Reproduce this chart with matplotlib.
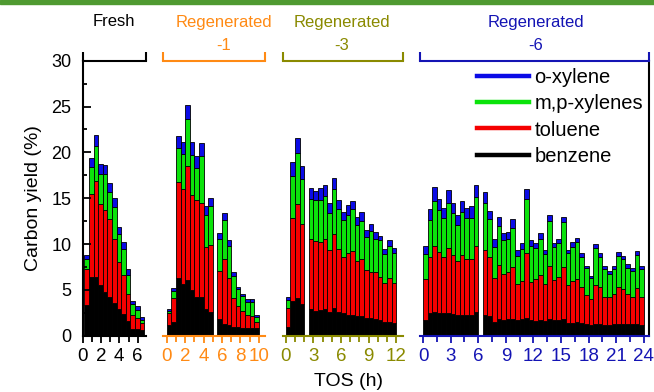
import numpy as np
import matplotlib
matplotlib.use("Agg")
import matplotlib.pyplot as plt
from matplotlib.lines import Line2D
from matplotlib.patches import Rectangle
from matplotlib.ticker import MultipleLocator

plt.rcParams['font.family'] = ['Liberation Sans', 'DejaVu Sans']

# ---------------- data ----------------
# Fresh
tos_fresh = [0.45, 0.95, 1.45, 1.95, 2.45, 2.95, 3.45, 3.95, 4.45, 4.95, 5.45, 5.95, 6.45]
benz_fresh = [3.3, 6.4, 6.4, 5.5, 4.8, 4.2, 3.6, 2.9, 2.4, 1.6, 0.7, 0.7, 0.6]
tol_fresh = [4.0, 9.1, 10.5, 8.9, 8.9, 8.5, 6.9, 5.1, 4.2, 2.9, 1.6, 1.2, 0.75]
mp_fresh = [1.1, 2.9, 3.8, 3.2, 3.9, 3.0, 3.5, 3.1, 2.85, 2.15, 1.15, 0.9, 0.35]
o_fresh = [0.45, 1.0, 1.2, 1.1, 1.05, 1.0, 1.0, 0.8, 0.75, 0.65, 0.35, 0.4, 0.3]

# Regenerated-1
tos_r1 = [0.25, 0.75, 1.25, 1.75, 2.25, 2.75, 3.25, 3.75, 4.25, 4.75,
          5.75, 6.25, 6.75, 7.25, 7.75, 8.25, 8.75, 9.25, 9.75]
benz_r1 = [1.16, 1.45, 6.25, 5.6, 6.1, 4.95, 4.2, 4.2, 2.9, 2.6,
           1.8, 1.24, 1.16, 1.0, 1.0, 0.87, 0.87, 0.87, 0.87]
tol_r1 = [1.28, 2.62, 10.55, 10.4, 12.4, 10.45, 10.6, 10.3, 6.8, 7.3,
          5.25, 7.16, 5.14, 3.15, 2.2, 1.83, 1.43, 1.33, 0.63]
mp_r1 = [0.26, 0.8, 3.7, 3.8, 5.1, 4.3, 3.45, 5.1, 3.5, 4.2,
         3.45, 4.2, 3.5, 2.35, 1.85, 1.6, 1.4, 1.5, 0.57]
o_r1 = [0.2, 0.37, 1.3, 1.3, 1.6, 1.4, 1.35, 1.4, 0.9, 0.9,
        0.7, 0.75, 0.6, 0.4, 0.3, 0.3, 0.3, 0.3, 0.18]

# Regenerated-3
tos_r3 = [0.25, 0.75, 1.25, 1.75,
          2.75, 3.25, 3.75, 4.25, 4.75, 5.25, 5.75, 6.25, 6.75, 7.25,
          7.75, 8.25, 8.75, 9.25, 9.75, 10.25, 10.75, 11.25, 11.75]
benz_r3 = [0.98, 3.8, 4.15, 3.45, 2.9, 2.7, 2.8, 2.9, 2.6, 3.05, 2.6, 2.44,
           2.3, 2.3, 2.2, 2.2, 1.9, 1.9, 1.8, 1.7, 1.5, 1.5, 1.4]
tol_r3 = [2.07, 9.0, 10.25, 8.75, 7.6, 7.6, 7.45, 7.6, 6.75, 8.0, 6.85, 6.11,
          6.7, 6.9, 5.9, 6.2, 5.25, 5.0, 5.1, 4.75, 4.3, 4.8, 4.4]
mp_r3 = [0.85, 4.65, 5.5, 4.9, 4.4, 4.5, 4.55, 4.7, 4.05, 4.95, 4.35, 4.05,
         4.2, 4.6, 4.0, 4.15, 3.65, 4.5, 3.6, 3.95, 3.1, 3.5, 3.25]
o_r3 = [0.28, 1.55, 1.7, 1.4, 1.2, 1.0, 1.3, 1.2, 1.1, 1.2, 1.0, 0.85,
        1.05, 0.9, 0.9, 0.9, 0.7, 0.75, 0.8, 0.5, 0.55, 0.6, 0.55]

# Regenerated-6
tos_r6 = [0.25, 0.75, 1.25, 1.75, 2.25, 2.75, 3.25, 3.75, 4.25, 4.75, 5.25, 5.75,
          6.75, 7.25, 7.75, 8.25, 8.75, 9.25, 9.75, 10.25, 10.75, 11.25, 11.75,
          12.25, 12.75, 13.25, 13.75, 14.25, 14.75, 15.25, 15.75, 16.25, 16.75,
          17.25, 17.75, 18.25, 18.75, 19.25, 19.75, 20.25, 20.75, 21.25, 21.75,
          22.25, 22.75, 23.25, 23.75]
benz_r6 = [1.7, 2.44, 2.55, 2.5, 2.44, 2.44, 2.36, 2.25, 2.25, 2.25, 2.25, 2.6,
           2.25, 2.2, 1.5, 1.8, 1.7, 1.8, 1.8, 1.7, 1.8, 1.9, 1.7, 1.65, 1.7,
           1.65, 1.8, 1.7, 1.7, 1.8, 1.4, 1.4, 1.5, 1.4, 1.3, 1.15, 1.3, 1.25,
           1.15, 1.15, 1.3, 1.3, 1.3, 1.25, 1.25, 1.25, 1.15]
tol_r6 = [4.45, 6.11, 7.25, 6.65, 6.16, 7.16, 6.44, 5.95, 6.55, 6.15, 6.15, 7.2,
          7.1, 6.35, 4.75, 5.9, 5.0, 5.1, 5.65, 3.9, 4.2, 7.15, 4.2, 4.5, 4.9,
          3.95, 5.85, 4.4, 4.65, 5.65, 4.1, 4.55, 4.7, 3.9, 3.15, 2.85, 4.2, 4.05,
          3.1, 3.05, 3.25, 4.0, 3.75, 3.25, 3.0, 3.9, 3.05]
mp_r6 = [2.75, 4.05, 4.9, 4.55, 4.2, 4.9, 4.6, 3.9, 4.7, 4.4, 4.4, 5.3,
         5.15, 4.15, 3.45, 4.3, 3.7, 3.7, 4.35, 3.1, 3.45, 5.85, 3.9, 3.45, 3.9,
         3.3, 4.9, 3.6, 3.8, 4.95, 3.5, 3.75, 4.05, 3.3, 2.9, 2.25, 4.1, 3.25,
         3.05, 2.5, 2.7, 3.4, 3.3, 2.9, 2.8, 3.65, 3.1]
o_r6 = [0.9, 1.2, 1.5, 1.2, 1.1, 1.4, 1.1, 1.1, 1.2, 1.1, 1.3, 1.3,
        1.2, 0.9, 0.8, 0.9, 0.8, 0.75, 0.9, 0.6, 0.7, 1.1, 0.6, 0.55, 0.7,
        0.45, 0.65, 0.45, 0.45, 0.6, 0.4, 0.5, 0.45, 0.4, 0.25, 0.3, 0.4, 0.45,
        0.3, 0.4, 0.35, 0.4, 0.35, 0.4, 0.3, 0.45, 0.3]

series_names = ["o-xylene", "m,p-xylenes", "toluene", "benzene"]

# ---------------- style / layout ----------------
W, H = 654, 392
C_BENZ, C_TOL, C_MP, C_O = "#000000", "#f50000", "#0be30b", "#0b0be6"
panel_colors = ["#000000", "#ff8a14", "#8a8a00", "#1414b4"]
PXH = 9.2                      # pixels per hour
Y_BOT, Y_TOP = 335.7, 60.7     # pixel rows of y=0 and y=30
lefts_px = [82.5, 163.3, 282.7, 420.0]
xlims = [(0, 6.9), (-0.37, 10.7), (-0.33, 12.7), (-0.33, 24.6)]
major_steps = [2, 2, 3, 3]
minor_steps = [1, 1, 1, 1.5]
title_x = [114, 224, 342, 536]

fig = plt.figure(figsize=(W / 100, H / 100), dpi=100)
fig.patches.append(Rectangle((0, 1 - 3.5 / H), 1, 3.5 / H, transform=fig.transFigure,
                             color="#4f9a31", zorder=0))

data = [
    (tos_fresh, benz_fresh, tol_fresh, mp_fresh, o_fresh),
    (tos_r1, benz_r1, tol_r1, mp_r1, o_r1),
    (tos_r3, benz_r3, tol_r3, mp_r3, o_r3),
    (tos_r6, benz_r6, tol_r6, mp_r6, o_r6),
]

axes = []
for i, (tos, b, t, m, o) in enumerate(data):
    x0, x1 = xlims[i]
    left = lefts_px[i] / W
    width = (x1 - x0) * PXH / W
    bottom = 1 - Y_BOT / H
    height = (Y_BOT - Y_TOP) / H
    ax = fig.add_axes([left, bottom, width, height])
    axes.append(ax)
    ax.set_facecolor("none")
    b = np.array(b); t = np.array(t); m = np.array(m); o = np.array(o)
    kw = dict(width=0.5, edgecolor="black", linewidth=0.6, align="center")
    ax.bar(tos, b, color=C_BENZ, **kw)
    ax.bar(tos, t, bottom=b, color=C_TOL, **kw)
    ax.bar(tos, m, bottom=b + t, color=C_MP, **kw)
    ax.bar(tos, o, bottom=b + t + m, color=C_O, **kw)
    ax.set_xlim(x0, x1)
    ax.set_ylim(0, 30)
    pc = panel_colors[i]
    for s in ["left", "right", "top", "bottom"]:
        ax.spines[s].set_visible(False)
    for s in ["bottom", "top"]:
        ax.spines[s].set_visible(True)
        ax.spines[s].set_color(pc)
        ax.spines[s].set_linewidth(1.5)
    # bracket end marks
    ax.plot([x0, x0], [30, 31.0], color=pc, lw=1.5, clip_on=False, solid_capstyle="butt")
    ax.plot([x1, x1], [30, 31.0], color=pc, lw=1.5, clip_on=False, solid_capstyle="butt")
    ax.xaxis.set_major_locator(MultipleLocator(major_steps[i]))
    ax.xaxis.set_minor_locator(MultipleLocator(minor_steps[i]))
    ax.tick_params(axis="x", which="both", direction="out", color=pc, width=1.3,
                   labelcolor=pc, labelsize=13.5, pad=3.5, top=False)
    ax.tick_params(axis="x", which="major", length=5)
    ax.tick_params(axis="x", which="minor", length=4)
    if i == 0:
        ax.spines["left"].set_visible(True)
        ax.spines["left"].set_linewidth(1.5)
        ax.yaxis.set_major_locator(MultipleLocator(5))
        ax.yaxis.set_minor_locator(MultipleLocator(2.5))
        ax.tick_params(axis="y", which="both", direction="in", width=1.3,
                       labelsize=13, pad=8)
        ax.tick_params(axis="y", which="major", length=6)
        ax.tick_params(axis="y", which="minor", length=3)
        ax.set_ylabel("Carbon yield (%)", fontsize=14, labelpad=7)
    else:
        ax.tick_params(axis="y", which="both", left=False, labelleft=False)
    if i == 3:
        ax.spines["right"].set_visible(True)
        ax.spines["right"].set_color("black")
        ax.spines["right"].set_linewidth(1.5)

# titles
fig.text(title_x[0] / W, 1 - 22 / H, "Fresh", color=panel_colors[0], fontsize=12,
         ha="center", va="center")
for cx, col, suf in zip(title_x[1:], panel_colors[1:], ["-1", "-3", "-6"]):
    fig.text(cx / W, 1 - 22 / H, "Regenerated", color=col, fontsize=12,
             ha="center", va="center")
    fig.text(cx / W, 1 - 45 / H, suf, color=col, fontsize=12,
             ha="center", va="center")

fig.text(348 / W, 1 - 381 / H, "TOS (h)", fontsize=14, ha="center", va="center")

# legend
handles = [Line2D([], [], color=c, lw=3.2) for c in [C_O, C_MP, C_TOL, C_BENZ]]
axes[3].legend(handles, series_names, loc="upper left",
               bbox_to_anchor=((477 - lefts_px[3]) / ((xlims[3][1] - xlims[3][0]) * PXH),
                               1 - (68 - Y_TOP) / (Y_BOT - Y_TOP)),
               frameon=False, fontsize=14.5, handlelength=2.6, handletextpad=0.25,
               labelspacing=0.36, borderpad=0, borderaxespad=0)

fig.savefig("out.png", dpi=100)
